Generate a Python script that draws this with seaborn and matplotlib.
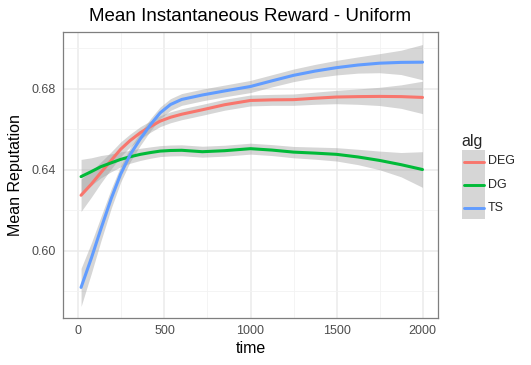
import numpy as np
import pandas as pd
import matplotlib
matplotlib.use("Agg")
import matplotlib.pyplot as plt
from matplotlib.lines import Line2D
from matplotlib.patches import Rectangle
import seaborn as sns

# ---- data ----
time = [15, 75, 130, 190, 245, 300, 360, 420, 475, 535, 600, 720, 850,
        1000, 1125, 1250, 1375, 1500, 1625, 1750, 1875, 2000]

deg_mean = [0.6275, 0.6330, 0.6387, 0.6447, 0.6502, 0.6545, 0.6584, 0.6615,
            0.6641, 0.6660, 0.6675, 0.6697, 0.6722, 0.6743, 0.6746, 0.6747,
            0.6754, 0.6760, 0.6762, 0.6763, 0.6762, 0.6758]
dg_mean = [0.6367, 0.6392, 0.6416, 0.6435, 0.6452, 0.6465, 0.6477, 0.6486,
           0.6493, 0.6496, 0.6497, 0.6490, 0.6495, 0.6505, 0.6498, 0.6488,
           0.6483, 0.6477, 0.6464, 0.6447, 0.6426, 0.6402]
ts_mean = [0.5820, 0.5965, 0.6108, 0.6258, 0.6379, 0.6475, 0.6554, 0.6625,
           0.6682, 0.6723, 0.6748, 0.6770, 0.6790, 0.6812, 0.6840, 0.6867,
           0.6888, 0.6905, 0.6918, 0.6927, 0.6931, 0.6932]

deg_se = [0.0080, 0.0064, 0.0052, 0.0042, 0.0036, 0.0032, 0.0030, 0.0028,
          0.0027, 0.0027, 0.0027, 0.0027, 0.0027, 0.0027, 0.0027, 0.0028,
          0.0030, 0.0033, 0.0038, 0.0045, 0.0058, 0.0080]
dg_se = [0.0085, 0.0068, 0.0055, 0.0044, 0.0037, 0.0032, 0.0030, 0.0028,
         0.0027, 0.0027, 0.0027, 0.0027, 0.0027, 0.0027, 0.0027, 0.0028,
         0.0030, 0.0033, 0.0038, 0.0046, 0.0060, 0.0088]
ts_se = [0.0094, 0.0075, 0.0060, 0.0048, 0.0040, 0.0035, 0.0032, 0.0030,
         0.0029, 0.0029, 0.0029, 0.0029, 0.0029, 0.0030, 0.0030, 0.0031,
         0.0033, 0.0036, 0.0040, 0.0047, 0.0060, 0.0087]

algs = ["DEG", "DG", "TS"]
colors = {"DEG": "#F8766D", "DG": "#00BA38", "TS": "#619CFF"}

means = {"DEG": deg_mean, "DG": dg_mean, "TS": ts_mean}
ses = {"DEG": deg_se, "DG": dg_se, "TS": ts_se}

rows = []
for a in algs:
    for t, m, s in zip(time, means[a], ses[a]):
        rows.append({"time": t, "rep": m, "lo": m - s, "hi": m + s, "alg": a})
df = pd.DataFrame(rows)

# ---- figure ----
sns.set_style("white")
plt.rcParams["font.family"] = ["Liberation Sans", "DejaVu Sans"]

W, H = 531, 365
fig = plt.figure(figsize=(W / 100, H / 100), dpi=100)
ax = fig.add_axes([63 / W, 1 - 318 / H, (438 - 63) / W, (318 - 32) / H])

ax.set_xlim(-90, 2090)
ax.set_ylim(0.5669, 0.7081)

# grid
ax.set_xticks([0, 500, 1000, 1500, 2000])
ax.set_xticks([250, 750, 1250, 1750], minor=True)
ax.set_yticks([0.60, 0.64, 0.68])
ax.set_yticks([0.58, 0.62, 0.66, 0.70], minor=True)
ax.grid(True, which="major", color="#EBEBEB", lw=1.1, zorder=0)
ax.grid(True, which="minor", color="#F2F2F2", lw=0.6, zorder=0)
ax.set_axisbelow(True)

# bands
for a in algs:
    d = df[df.alg == a]
    ax.fill_between(d["time"], d["lo"], d["hi"], color="#999999", alpha=0.4,
                    lw=0, zorder=2)

sns.lineplot(data=df, x="time", y="rep", hue="alg", palette=colors,
             hue_order=algs, estimator=None, sort=False, lw=2.2, ax=ax,
             legend=False, zorder=3)

for sp in ax.spines.values():
    sp.set_color("#7F7F7F")
    sp.set_linewidth(0.9)

ax.tick_params(axis="both", which="major", length=3, width=0.8, color="#333333",
               labelsize=9, labelcolor="#4D4D4D", pad=2, direction="out")
ax.tick_params(axis="both", which="minor", length=0)
ax.set_yticklabels(["0.60", "0.64", "0.68"])
ax.set_xticklabels(["0", "500", "1000", "1500", "2000"])

ax.set_xlabel("time", fontsize=11.5, color="black", labelpad=3)
ax.set_ylabel("Mean Reputation", fontsize=11.5, color="black", labelpad=6)
ax.set_title("Mean Instantaneous Reward - Uniform", fontsize=13.5,
             color="black", pad=8)

# ---- legend (manual, ggplot-like) ----
def fx(px):
    return px / W

def fy(py):
    return 1 - py / H

fig.text(fx(461), fy(141), "alg", fontsize=11.5, va="center", ha="left")
key_l, key_r = 462, 485
key_tops = [150, 173, 196]
for i, a in enumerate(algs):
    top = key_tops[i]
    fig.add_artist(Rectangle((fx(key_l), fy(top + 23)), fx(key_r) - fx(key_l),
                             fy(top) - fy(top + 23), transform=fig.transFigure,
                             facecolor="#D6D6D6", edgecolor="none"))
    yc = top + 11.5
    fig.add_artist(Line2D([fx(key_l + 1.5), fx(key_r - 1.5)], [fy(yc), fy(yc)],
                          transform=fig.transFigure, color=colors[a], lw=2.1))
    fig.text(fx(488), fy(yc), a, fontsize=9, va="center", ha="left")

fig.savefig("out.png", dpi=100)
